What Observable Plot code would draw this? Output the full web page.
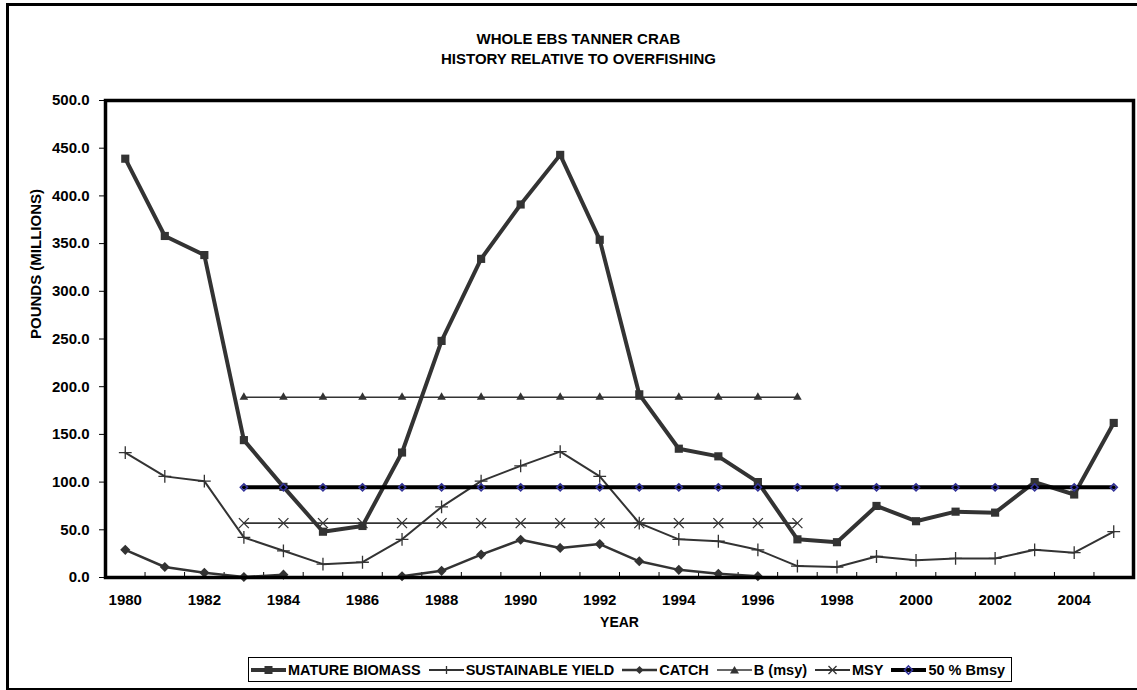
<!DOCTYPE html>
<html>
<head>
<meta charset="utf-8">
<script src="https://cdn.jsdelivr.net/npm/d3@7"></script>
<script src="https://cdn.jsdelivr.net/npm/@observablehq/plot@0.6"></script>
<style>
  html, body { margin: 0; padding: 0; background: #fff; }
  #wrap { position: relative; width: 1137px; height: 690px; overflow: hidden; font-family: "Liberation Sans", Arial, sans-serif; }
  #outer { position: absolute; left: 6px; top: 3px; width: 1160px; height: 682px; border: 3.5px solid #000; box-sizing: content-box; pointer-events: none; }
  #legend { position: absolute; left: 248px; top: 657px; height: 23px; border: 1px solid #000; background: #fff;
            display: flex; align-items: center; padding: 0 6px 0 2px; font-weight: bold; font-size: 14.5px; color: #000; white-space: nowrap; }
  #legend .item { display: flex; align-items: center; margin-right: 8px; }
  #legend .item:last-child { margin-right: 0; }
  #legend svg { display: block; margin-right: 2px; }
</style>
</head>
<body>
<div id="wrap">
  <div id="chart"></div>
  <div id="outer"></div>
  <div id="legend"></div>
</div>
<script>
// ---- data ----
const years = [1980,1981,1982,1983,1984,1985,1986,1987,1988,1989,1990,1991,1992,1993,1994,1995,1996,1997,1998,1999,2000,2001,2002,2003,2004,2005];
const matureBiomass = [439,358,338,144,95,48,54,131,248,334,391,443,354,192,135,127,100,40,37,75,59,69,68,100,87,162];
const sustainableYield = [131,106,101,42,28,14,16,40,74,101,117,132,106,57,40,38,29,12,11,22,18,20,20,29,26,48];
const catchValues = [29,11,5,0.5,3,null,null,1.3,7,24,39.5,31,35,17,8,4,1.4,null,null,null,null,null,null,null,null,null];
const bmsyYears = [1983,1984,1985,1986,1987,1988,1989,1990,1991,1992,1993,1994,1995,1996,1997];
const bmsyValue = 189;
const msyYears = [1983,1984,1985,1986,1987,1988,1989,1990,1991,1992,1993,1994,1995,1996,1997];
const msyValue = 57;
const halfBmsyYears = [1983,1984,1985,1986,1987,1988,1989,1990,1991,1992,1993,1994,1995,1996,1997,1998,1999,2000,2001,2002,2003,2004,2005];
const halfBmsyValue = 94.5;
const yTicks = [0,50,100,150,200,250,300,350,400,450,500];
const xLabelYears = [1980,1982,1984,1986,1988,1990,1992,1994,1996,1998,2000,2002,2004];
const seriesNames = ["MATURE BIOMASS","SUSTAINABLE YIELD","CATCH","B (msy)","MSY","50 % Bmsy"];
const titleLines = ["WHOLE EBS TANNER CRAB","HISTORY RELATIVE TO OVERFISHING"];
const xTitle = "YEAR";
const yTitle = "POUNDS (MILLIONS)";

// ---- tables built from arrays ----
const bio = years.map((y,i) => ({year:y, v:matureBiomass[i]}));
const sy = years.map((y,i) => ({year:y, v:sustainableYield[i]}));
const ct = years.map((y,i) => ({year:y, v:catchValues[i]}));
const ctPts = ct.filter(d => d.v != null);
const bm = bmsyYears.map(y => ({year:y, v:bmsyValue}));
const ms = msyYears.map(y => ({year:y, v:msyValue}));
const hb = halfBmsyYears.map(y => ({year:y, v:halfBmsyValue}));
const catBounds = years.slice(1).map(y => y - 0.5);

const dark = "#333333";
const navy = "#333399";

const chart = Plot.plot({
  width: 1137,
  height: 690,
  marginLeft: 105,
  marginRight: 4,
  marginTop: 100,
  marginBottom: 113,
  style: "font-family: 'Liberation Sans', Arial, sans-serif; font-size: 15px; font-weight: bold; color: #000; background: transparent; overflow: visible;",
  x: {domain: [years[0] - 0.5, years[years.length-1] + 0.5]},
  y: {domain: [0, 500]},
  marks: [
    Plot.axisY({ticks: yTicks, tickSize: 6, tickPadding: 10, tickFormat: d => d.toFixed(1), label: null, stroke: "#000"}),
    Plot.axisX({ticks: xLabelYears, tickSize: 0, tickPadding: 17, tickFormat: d => String(d), label: null}),
    Plot.ruleX(catBounds, {x: d => d, insetTop: 472, stroke: "#000", strokeWidth: 1}),
    // series (Excel order)
    Plot.line(bio, {x: "year", y: "v", stroke: dark, strokeWidth: 4}),
    Plot.dot(bio, {x: "year", y: "v", symbol: "square", r: 4.6, fill: dark}),
    Plot.line(sy, {x: "year", y: "v", stroke: dark, strokeWidth: 2}),
    Plot.dot(sy, {x: "year", y: "v", symbol: "plus", r: 4.2, stroke: dark, strokeWidth: 1.3}),
    Plot.line(ct, {x: "year", y: "v", stroke: dark, strokeWidth: 2.5}),
    Plot.dot(ctPts, {x: "year", y: "v", symbol: "diamond2", r: 3.6, fill: dark, stroke: dark}),
    Plot.line(bm, {x: "year", y: "v", stroke: dark, strokeWidth: 1.5}),
    Plot.dot(bm, {x: "year", y: "v", symbol: "triangle", r: 3.2, fill: dark}),
    Plot.line(ms, {x: "year", y: "v", stroke: dark, strokeWidth: 1.8}),
    Plot.dot(ms, {x: "year", y: "v", symbol: "times", r: 4.6, stroke: dark, strokeWidth: 1.3}),
    Plot.line(hb, {x: "year", y: "v", stroke: "#000", strokeWidth: 4}),
    Plot.dot(hb, {x: "year", y: "v", symbol: "diamond2", r: 3.2, fill: "none", stroke: navy, strokeWidth: 1.6}),
    Plot.frame({stroke: "#000", strokeWidth: 3.5}),
    // titles
    Plot.text([titleLines[0]], {text: d => d, frameAnchor: "top-left", dx: 473, dy: -67, textAnchor: "middle", fontSize: 15, fontWeight: "bold", fill: "#000"}),
    Plot.text([titleLines[1]], {text: d => d, frameAnchor: "top-left", dx: 473, dy: -47, textAnchor: "middle", fontSize: 15, fontWeight: "bold", fill: "#000"}),
    Plot.text([xTitle], {text: d => d, frameAnchor: "bottom", dy: 49, fontSize: 14, fontWeight: "bold", fill: "#000"}),
    Plot.text([yTitle], {text: d => d, frameAnchor: "left", dx: -69, rotate: -90, fontSize: 15, fontWeight: "bold", fill: "#000"})
  ]
});
document.getElementById("chart").appendChild(chart);

// ---- legend ----
const legendSpec = [
  {w: 4, c: dark, sym: "square"},
  {w: 2, c: dark, sym: "plus"},
  {w: 2.5, c: dark, sym: "diamond"},
  {w: 1.5, c: dark, sym: "triangle"},
  {w: 1.8, c: dark, sym: "times"},
  {w: 4, c: "#000", sym: "navydiamond"}
];
function symSvg(s) {
  const W = 35, H = 14, cx = W/2, cy = H/2;
  let m = "";
  if (s.sym === "square") m = `<rect x="${cx-4}" y="${cy-4}" width="8" height="8" fill="${dark}"/>`;
  if (s.sym === "plus") m = `<path d="M${cx-4},${cy}H${cx+4}M${cx},${cy-4}V${cy+4}" stroke="${dark}" stroke-width="1.3"/>`;
  if (s.sym === "diamond") m = `<path d="M${cx},${cy-4}L${cx+4},${cy}L${cx},${cy+4}L${cx-4},${cy}Z" fill="${dark}"/>`;
  if (s.sym === "triangle") m = `<path d="M${cx},${cy-4}L${cx+4.5},${cy+3.5}L${cx-4.5},${cy+3.5}Z" fill="${dark}"/>`;
  if (s.sym === "times") m = `<path d="M${cx-4},${cy-4}L${cx+4},${cy+4}M${cx+4},${cy-4}L${cx-4},${cy+4}" stroke="${dark}" stroke-width="1.3"/>`;
  if (s.sym === "navydiamond") m = `<path d="M${cx},${cy-4}L${cx+4},${cy}L${cx},${cy+4}L${cx-4},${cy}Z" fill="none" stroke="${navy}" stroke-width="1.6"/>`;
  return `<svg width="${W}" height="${H}"><line x1="0" x2="${W}" y1="${cy}" y2="${cy}" stroke="${s.c}" stroke-width="${s.w}"/>${m}</svg>`;
}
const leg = document.getElementById("legend");
seriesNames.forEach((n, i) => {
  const d = document.createElement("div");
  d.className = "item";
  d.innerHTML = symSvg(legendSpec[i]) + `<span>${n}</span>`;
  leg.appendChild(d);
});
</script>
</body>
</html>
